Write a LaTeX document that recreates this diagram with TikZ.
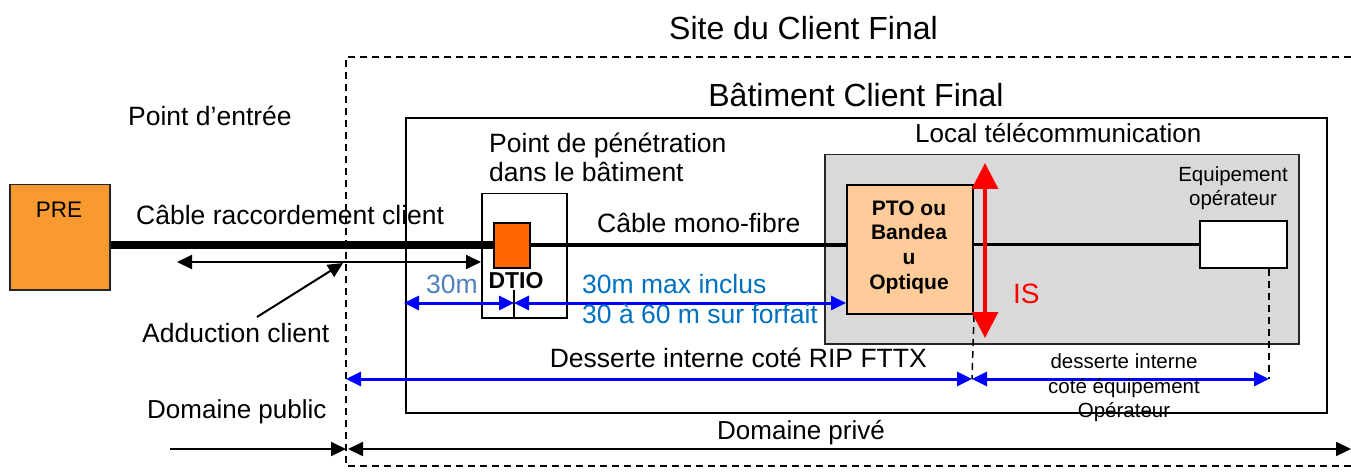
\documentclass[tikz,border=0pt]{standalone}
\usepackage{fontspec}
\setmainfont{Liberation Sans}
\usetikzlibrary{arrows.meta,calc}
\definecolor{preorange}{HTML}{F99A30}
\definecolor{dtioorange}{HTML}{FF6600}
\definecolor{ptofill}{HTML}{FFCC99}
\definecolor{greybox}{HTML}{D9D9D9}
\definecolor{lblue}{HTML}{4F81BD}
\definecolor{dblue}{HTML}{0070C0}
\newcommand\fsz[1]{\fontsize{#1}{#1}\selectfont}
\begin{document}
\begin{tikzpicture}[x=1pt,y=-1pt,
  txt/.style={inner sep=0pt, font=\fsz{26.5}},
  rect/.style={draw, line width=2pt, inner sep=0pt, anchor=north west},
  blkarr/.style={line width=2pt, arrows={-Triangle[length=15pt,width=14pt]}},
  blkdbl/.style={line width=2pt, arrows={Triangle[length=15pt,width=14pt]-Triangle[length=15pt,width=14pt]}},
  bludbl/.style={line width=3pt, blue, arrows={Triangle[length=15pt,width=14pt]-Triangle[length=15pt,width=14pt]}},
  reddbl/.style={line width=3.5pt, red, arrows={Triangle[length=26pt,width=26pt]-Triangle[length=26pt,width=26pt]}},
  dsh/.style={line width=2pt, dash pattern=on 7pt off 5pt}]
\useasboundingbox[fill=white] (0,0) rectangle (1351,473);
% outer dashed site boundary
\draw[dsh] (1351,57) -- (346,57) -- (346,466) -- (1351,466);
% boxes
\node[rect, minimum width=921pt, minimum height=295pt] (bat) at (405,117) {};
\node[rect, line width=1.5pt, draw=black!85, fill=greybox, minimum width=474pt, minimum height=189pt] (local) at (824,154) {};
\node[rect, line width=1.5pt, fill=white, minimum width=85pt, minimum height=124pt] (dtiobox) at (481,193) {};
\node[rect, line width=1.5pt, draw=black!85, fill=preorange, minimum width=100pt, minimum height=105pt] (pre) at (9,184) {};
\node[rect, line width=1.5pt, fill=dtioorange, minimum width=36pt, minimum height=45pt] (orange) at (493,222) {};
\node[rect, fill=ptofill, minimum width=126pt, minimum height=129pt] (pto) at (846,184) {};
\node[inner sep=0pt, align=center, font=\bfseries\fontsize{21}{24.7}\selectfont] (ptotext) at (909,247) {PTO ou\\Bandea\\u\\Optique};
\node[rect, fill=white, minimum width=87pt, minimum height=47pt] (equip) at (1199,220) {};
% cables
\draw[line width=8pt] (pre.east |- orange.west) -- (orange.west);
\draw[line width=4pt] (orange.east) -- (orange.east -| pto.west);
\draw[line width=3.5pt] (pto.east |- equip.west) -- (equip.west);
% tick in DTIO box
\coordinate (tick) at (514,290);
\draw[line width=1.5pt] (tick) -- (tick |- dtiobox.south);
% black arrows
\coordinate (cr1) at (177,262);
\draw[blkdbl] (cr1) -- (cr1 -| dtiobox.west);
\coordinate (ad0) at (257,317);
\coordinate (ad1) at (343,263);
\draw[blkarr] (ad0) -- (ad1);
\coordinate (dp0) at (170,449);
\coordinate (dp1) at (346,449);
\coordinate (dp2) at (348,449);
\coordinate (dp3) at (1351,449);
\draw[blkarr] (dp0) -- (dp1);
\draw[blkdbl] (dp2) -- (dp3);
% blue dimension arrows
\coordinate (b30a) at (404,303);
\coordinate (b30b) at (514,303);
\draw[bludbl] (b30a) -- (b30b);
\draw[bludbl] (b30b) -- (b30b -| pto.west);
\coordinate (dsA) at (346,379);
\coordinate (dsB) at (972,379);
\coordinate (dsC) at (1269,379);
\draw[bludbl] (dsA) -- (dsB);
\draw[bludbl] (dsB) -- (dsC);
% dashed verticals
\draw[line width=1.5pt, dash pattern=on 7pt off 5pt] (pto.south east) -- (dsB);
\draw[line width=1.5pt, dash pattern=on 7pt off 5pt] (dsC |- equip.south) -- (dsC);
% red IS arrow
\coordinate (isT) at (985,163);
\coordinate (isB) at (985,338);
\draw[reddbl] (isT) -- (isB);
% texts
\node[txt, font=\fsz{32}, anchor=base] (tsite) at (803.5,40) {Site du Client Final};
\node[txt, font=\fsz{32}, anchor=base] (tbat) at (856,107) {Bâtiment Client Final};
\node[txt, anchor=base west] (tentree) at (128,126) {Point d’entrée};
\node[txt, font=\fsz{22.5}, anchor=base] (tpre) at (59,218) {PRE};
\node[txt, anchor=base west] (tcable) at (136,224) {Câble raccordement client};
\node[txt, anchor=base west] (tadd) at (142,342) {Adduction client};
\node[txt, anchor=base west] (tpen1) at (489,153) {Point de pénétration};
\node[txt, anchor=base west] (tpen2) at (489,182) {dans le bâtiment};
\node[txt, anchor=base west] (tmono) at (597,233) {Câble mono-fibre};
\node[txt, font=\bfseries\fsz{23}, anchor=base] (tdtio) at (516,288) {DTIO};
\node[txt, lblue, anchor=base west] (t30) at (426,293) {30m};
\node[txt, dblue, anchor=base west] (t30max) at (582,293) {30m max inclus};
\node[txt, dblue, anchor=base west] (t3060) at (582,323) {30 à 60 m sur forfait};
\node[txt, font=\fsz{26}, anchor=base west] (tlocal) at (915,143) {Local télécommunication};
\node[txt, red, font=\fsz{28}, anchor=base west] (tis) at (1013,303) {IS};
\node[txt, font=\fsz{20.5}, anchor=base] (teq1) at (1233,182) {Equipement};
\node[txt, font=\fsz{20.5}, anchor=base] (teq2) at (1233,205) {opérateur};
\node[txt, font=\fsz{26.5}, anchor=base east] (tdess) at (927,367) {Desserte interne coté RIP FTTX};
\node[txt, font=\fsz{20.5}, anchor=base] (tdi1) at (1124,368) {desserte interne};
\node[txt, font=\fsz{20.5}, anchor=base] (tdi2) at (1124,393) {coté équipement};
\node[txt, font=\fsz{20.5}, anchor=base] (tdi3) at (1124,417) {Opérateur};
\node[txt, font=\fsz{26}, anchor=base west] (tprive) at (717,439) {Domaine privé};
\node[txt, font=\fsz{26}, anchor=base west] (tpublic) at (147,418) {Domaine public};
\end{tikzpicture}
\end{document}
